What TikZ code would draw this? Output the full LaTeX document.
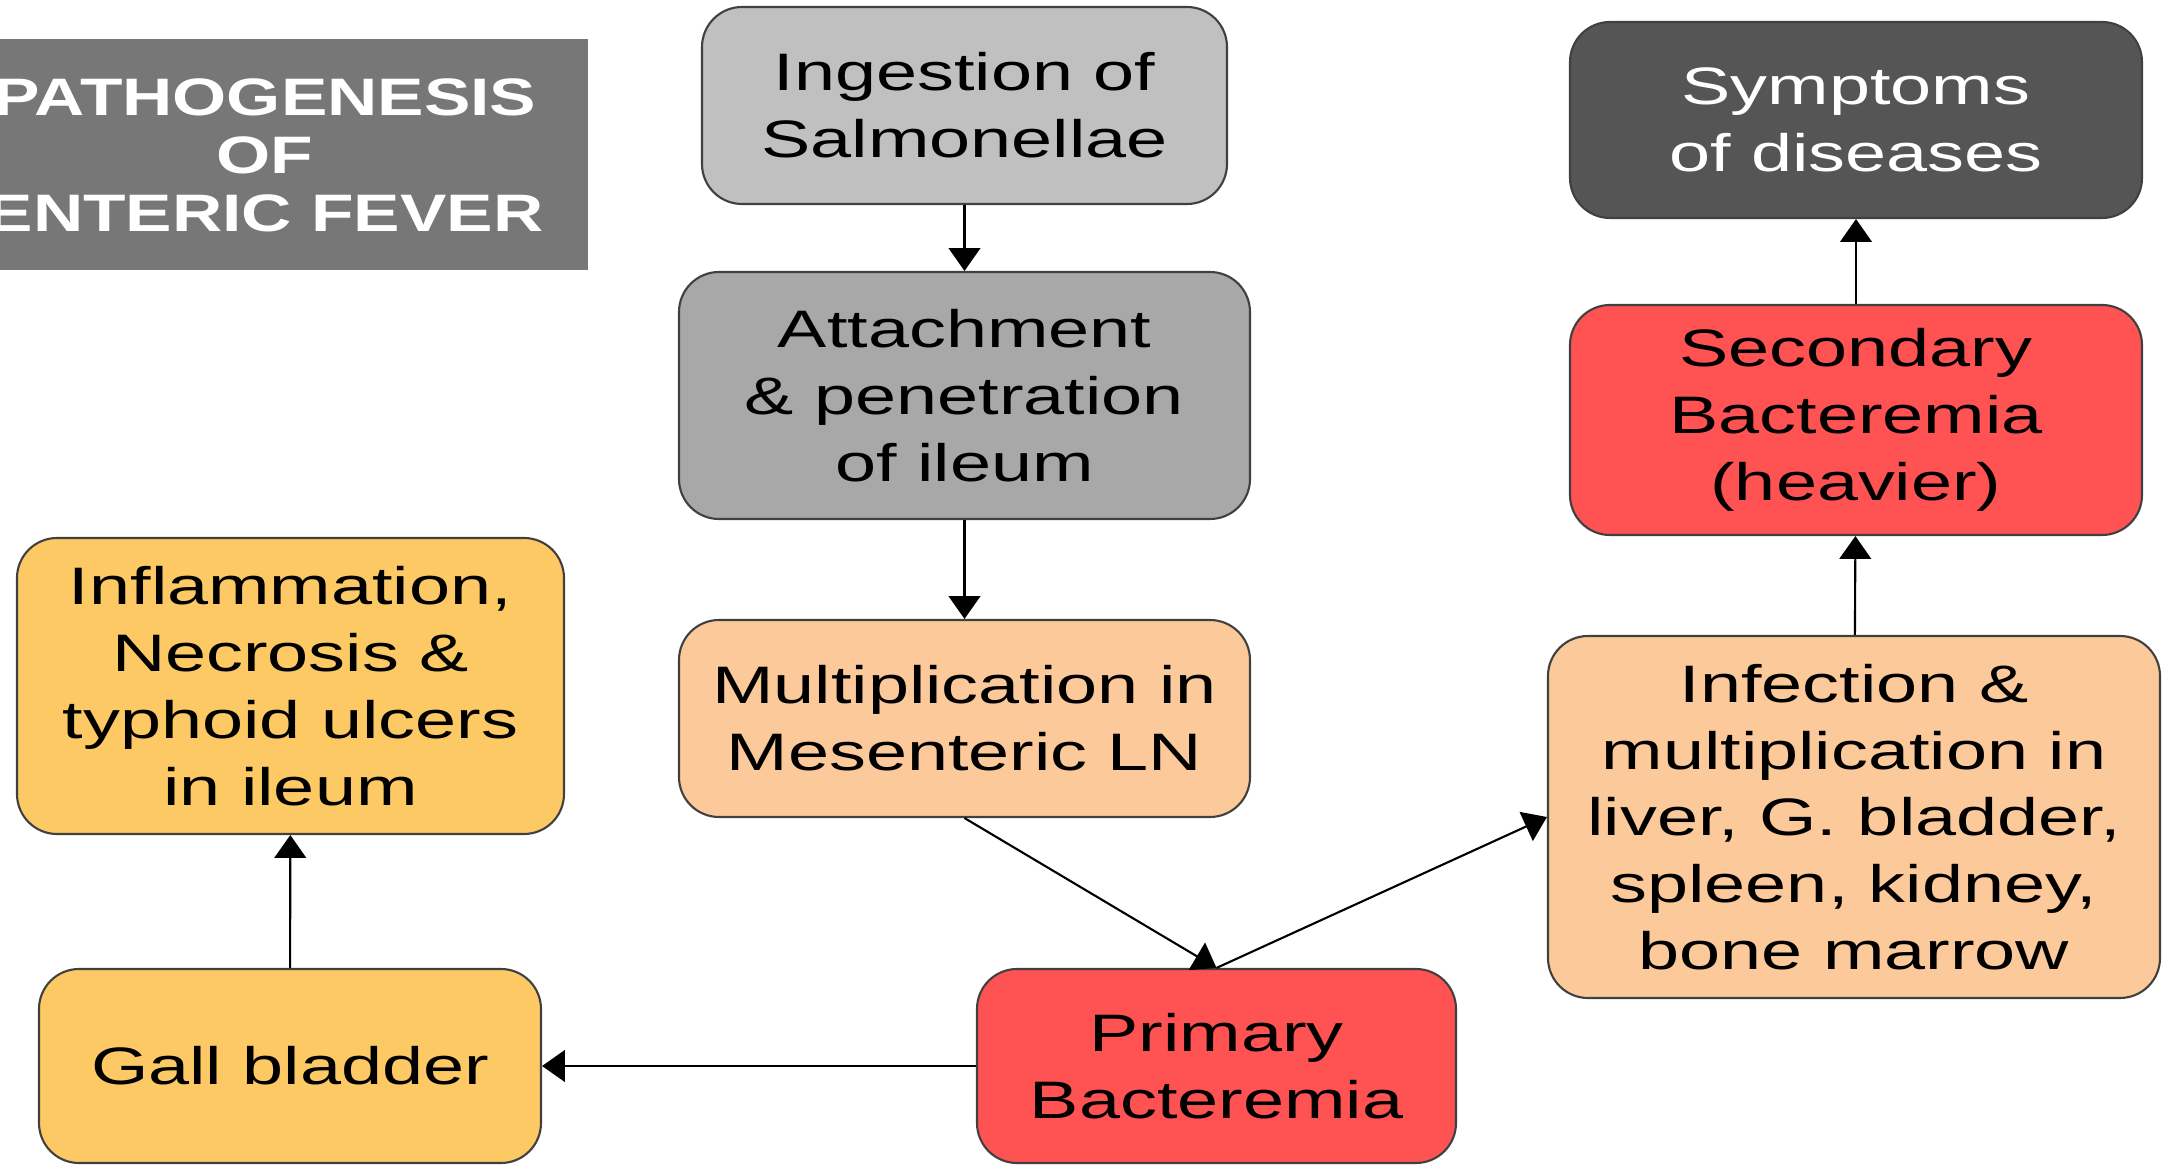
\documentclass[tikz,border=0pt]{standalone}
\usepackage{fontspec}
\setmainfont{Liberation Sans}[FakeStretch=1.4]
\newfontfamily\titlefont{Liberation Sans}[FakeStretch=1.32]
\usetikzlibrary{arrows.meta}
\begin{document}
\begin{tikzpicture}
    \definecolor{titlegray}{RGB}{119,119,119};
    \definecolor{lightgray}{RGB}{192,192,192};
    \definecolor{midgray}{RGB}{168,168,168};
    \definecolor{darkgray}{RGB}{85,85,85};
    \definecolor{redbox}{RGB}{255,82,82};
    \definecolor{peach}{RGB}{252,202,154};
    \definecolor{goldbox}{RGB}{252,201,100};
\useasboundingbox (0,0) rectangle (21.64,-11.67);
\tikzstyle{box}=[draw=black!75,line width=0.6pt,rounded corners=0.4cm,inner sep=0pt,
  align=center,font=\fontsize{15}{19}\selectfont];
\tikzstyle{link}=[line width=0.6pt,-{Triangle[length=6.5pt,width=9pt]}];
% title
\fill [titlegray] (0,-0.39) rectangle (5.88,-2.70);
\begin{scope}
  \clip (0,-0.39) rectangle (5.88,-2.70);
  \node (title) [align=center,text=white,font=\titlefont\bfseries\fontsize{15}{16.5}\selectfont]
    at (2.65,-1.55) {PATHOGENESIS\\OF\\ENTERIC FEVER};
\end{scope}
% middle column
\node (ingest) [box,fill=lightgray,minimum width=5.25cm,minimum height=1.97cm]
  at (9.645,-1.055) {Ingestion of\\Salmonellae};
\node (attach) [box,fill=midgray,minimum width=5.71cm,minimum height=2.47cm]
  at (9.645,-3.955) {Attachment\\\& penetration\\of ileum};
\node (mult) [box,fill=peach,minimum width=5.71cm,minimum height=1.97cm]
  at (9.645,-7.185) {Multiplication in\\Mesenteric LN};
\node (primary) [box,fill=redbox,minimum width=4.79cm,minimum height=1.94cm]
  at (12.165,-10.66) {Primary\\Bacteremia};
% left column
\node (gall) [box,fill=goldbox,minimum width=5.02cm,minimum height=1.94cm]
  at (2.90,-10.66) {Gall bladder};
\node (inflam) [box,fill=goldbox,minimum width=5.47cm,minimum height=2.96cm]
  at (2.905,-6.86) {Inflammation,\\Necrosis \&\\typhoid ulcers\\in ileum};
% right column
\node (infect) [box,fill=peach,minimum width=6.12cm,minimum height=3.62cm]
  at (18.54,-8.17) {Infection \&\\multiplication in\\liver, G. bladder,\\spleen, kidney,\\bone marrow};
\node (second) [box,fill=redbox,minimum width=5.72cm,minimum height=2.30cm]
  at (18.56,-4.20) {Secondary\\Bacteremia\\(heavier)};
\node (sympt) [box,fill=darkgray,text=white,minimum width=5.72cm,minimum height=1.96cm]
  at (18.56,-1.20) {Symptoms\\of diseases};
% arrows
\draw [link] (ingest) -- (attach);
\draw [link] (attach) -- (mult);
\draw [link] (mult.south) -- (primary.north);
\draw [link] (primary.north) -- (infect.west);
\draw [link] (infect) -- (second);
\draw [link] (second) -- (sympt);
\draw [link] (primary) -- (gall);
\draw [link] (gall) -- (inflam);
\end{tikzpicture}
\end{document}
